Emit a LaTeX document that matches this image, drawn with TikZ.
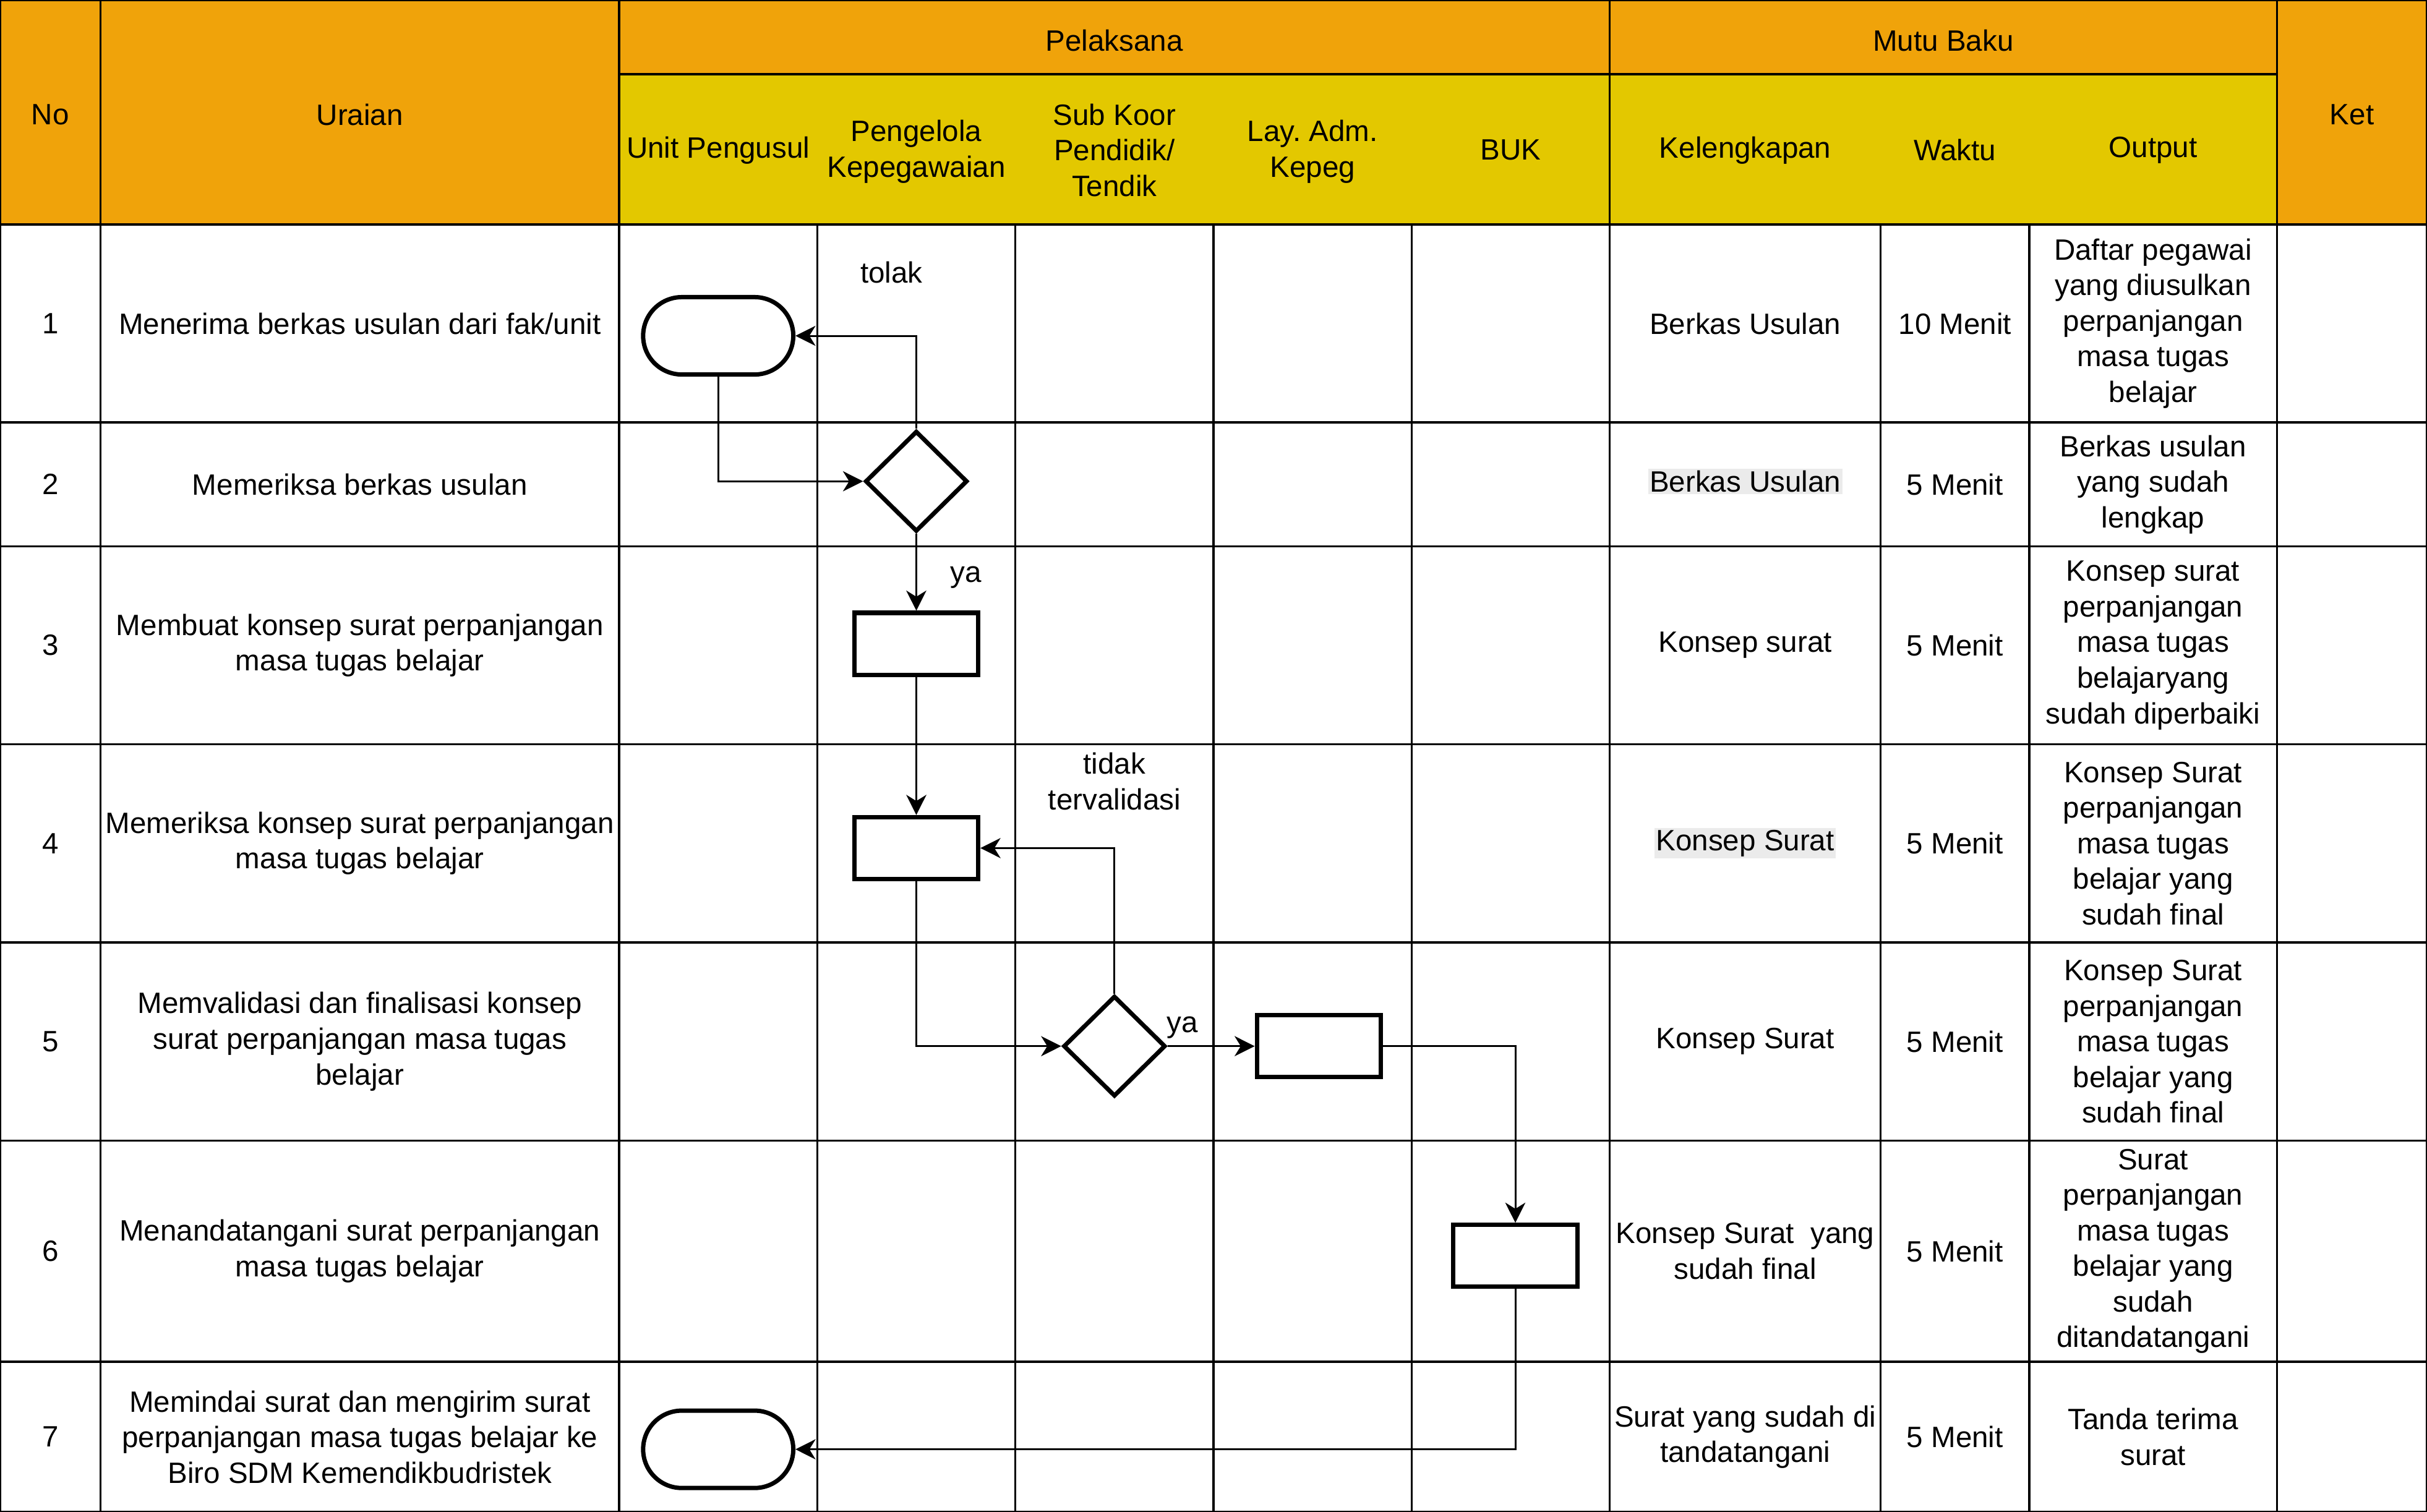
\documentclass[tikz,border=0pt]{standalone}
\usepackage{fontspec}
\setmainfont{Liberation Sans}
\usetikzlibrary{shapes.geometric,arrows.meta}

\definecolor{oranye}{HTML}{F0A30A}
\definecolor{kuning}{HTML}{E3C800}
\definecolor{sorot}{HTML}{EBEBEB}

\tikzset{
	sel/.style={align=center, inner sep=0pt, font=\fontsize{9.5}{11.5}\selectfont},
	garis/.style={line width=0.7pt},
	mulai/.style={draw, line width=1.4pt, rounded corners=12.5pt, minimum width=48.5pt, minimum height=25pt, inner sep=0pt},
	proses/.style={draw, line width=1.4pt, minimum width=40pt, minimum height=20pt, inner sep=0pt},
	putusan/.style={draw, diamond, line width=1.4pt, minimum width=33pt, minimum height=32.5pt, inner sep=0pt},
	alur/.style={line width=0.6pt, -{Stealth[length=6.5pt, width=6.5pt, inset=2pt]}},
}

\begin{document}
\begin{tikzpicture}[x=0.5pt, y=-0.5pt]
	\useasboundingbox (0,0) rectangle (1568,977);
	% Kepala tabel
		\fill[oranye] (0,0) rectangle (400,145);
		\fill[oranye] (400,0) rectangle (1471,48);
		\fill[oranye] (1471,0) rectangle (1568,145);
		\fill[kuning] (400,48) rectangle (1471,145);

	% Garis tabel
		\draw[garis] (0,0) rectangle (1568,977);
		\draw[garis] (400,48) -- (1471,48);
		\foreach \y in {145,273,353,481,609,737,880} \draw[garis] (0,\y) -- (1568,\y);
		\foreach \x in {65,400,1040,1471} \draw[garis] (\x,0) -- (\x,977);
		\foreach \x in {528,656,784,912,1215,1311} \draw[garis] (\x,145) -- (\x,977);

	% Judul kolom
		\node[sel] (hNo) at (32.5,74) {No};
		\node[sel] (hUraian) at (232.5,74) {Uraian};
		\node[sel] (hPelaksana) at (720,26) {Pelaksana};
		\node[sel] (hMutu) at (1255.5,26) {Mutu Baku};
		\node[sel] (hKet) at (1519.5,74) {Ket};
		\node[sel] (hUnit) at (464,97) {Unit Pengusul};
		\node[sel] (hPengelola) at (592,98) {Pengelola\\Kepegawaian};
		\node[sel] (hSubkoor) at (720,97) {Sub Koor\\Pendidik/\\Tendik};
		\node[sel] (hLayanan) at (848,98) {Lay.\ Adm.\\Kepeg};
		\node[sel] (hBuk) at (976,97) {BUK};
		\node[sel] (hKelengkapan) at (1127.5,97) {Kelengkapan};
		\node[sel] (hWaktu) at (1263,97) {Waktu};
		\node[sel] (hOutput) at (1391,97) {Output};

	% Nomor dan waktu
		\foreach \n/\y/\w in {1/209/10 Menit, 2/313/5 Menit, 3/417/5 Menit, 4/545/5 Menit, 5/673/5 Menit, 6/808.5/5 Menit, 7/928.5/5 Menit} {
			\node[sel] (no\n) at (32.5,\y) {\n};
			\node[sel] (wk\n) at (1263,\y) {\w};
		}

	% Uraian
		\node[sel] (ur1) at (232.5,209) {Menerima berkas usulan dari fak/unit};
		\node[sel] (ur2) at (232.5,313) {Memeriksa berkas usulan};
		\node[sel] (ur3) at (232.5,417) {Membuat konsep surat perpanjangan\\masa tugas belajar};
		\node[sel] (ur4) at (232.5,545) {Memeriksa konsep surat perpanjangan\\masa tugas belajar};
		\node[sel] (ur5) at (232.5,673) {Memvalidasi dan finalisasi konsep\\surat perpanjangan masa tugas\\belajar};
		\node[sel] (ur6) at (232.5,808.5) {Menandatangani surat perpanjangan\\masa tugas belajar};
		\node[sel] (ur7) at (232.5,928.5) {Memindai surat dan mengirim surat\\perpanjangan masa tugas belajar ke\\Biro SDM Kemendikbudristek};

	% Kelengkapan
		\node[sel] (kl1) at (1127.5,209) {Berkas Usulan};
		\node[sel, fill=sorot, inner xsep=0.5pt, inner ysep=0.6pt] (kl2) at (1127.5,311) {Berkas Usulan};
		\node[sel] (kl3) at (1127.5,417) {Konsep surat};
		\node[sel, fill=sorot, inner xsep=0.5pt, inner ysep=0.6pt] (kl4) at (1127.5,545) {Konsep Surat};
		\node[sel] (kl5) at (1127.5,673) {Konsep Surat};
		\node[sel] (kl6) at (1127.5,808.5) {Konsep Surat\ \ yang\\sudah final};
		\node[sel] (kl7) at (1127.5,928.5) {Surat yang sudah di\\tandatangani};

	% Output
		\node[sel] (out1) at (1391,209) {Daftar pegawai\\yang diusulkan\\perpanjangan\\masa tugas\\belajar};
		\node[sel] (out2) at (1391,313) {Berkas usulan\\yang sudah\\lengkap};
		\node[sel] (out3) at (1391,417) {Konsep surat\\perpanjangan\\masa tugas\\belajaryang\\sudah diperbaiki};
		\node[sel] (out4) at (1391,545) {Konsep Surat\\perpanjangan\\masa tugas\\belajar yang\\sudah final};
		\node[sel] (out5) at (1391,673) {Konsep Surat\\perpanjangan\\masa tugas\\belajar yang\\sudah final};
		\node[sel] (out6) at (1391,808.5) {Surat\\perpanjangan\\masa tugas\\belajar yang\\sudah\\ditandatangani};
		\node[sel] (out7) at (1391,928.5) {Tanda terima\\surat};

	% Bagan alir
		\node[mulai] (awal) at (464,217) {};
		\node[putusan] (periksa) at (592,311) {};
		\node[proses] (konsep) at (592,416) {};
		\node[proses] (cek) at (592,548) {};
		\node[putusan] (validasi) at (720,676) {};
		\node[proses] (layanan) at (852,676) {};
		\node[proses] (ttd) at (979,811.5) {};
		\node[mulai] (akhir) at (464,936.5) {};

	% Panah
		\draw[alur] (awal.south) |- (periksa.west);
		\draw[alur] (periksa.north) |- (awal.east);
		\draw[alur] (periksa.south) -- (konsep.north);
		\draw[alur] (konsep.south) -- (cek.north);
		\draw[alur] (cek.south) |- (validasi.west);
		\draw[alur] (validasi.north) |- (cek.east);
		\draw[alur] (validasi.east) -- (layanan.west);
		\draw[alur] (layanan.east) -| (ttd.north);
		\draw[alur] (ttd.south) |- (akhir.east);

	% Keterangan panah
		\node[sel] (tolak) at (576,176) {tolak};
		\node[sel] (ya1) at (624,373) {ya};
		\node[sel] (tidak) at (720,505) {tidak\\tervalidasi};
		\node[sel] (ya2) at (764,664) {ya};
\end{tikzpicture}
\end{document}
